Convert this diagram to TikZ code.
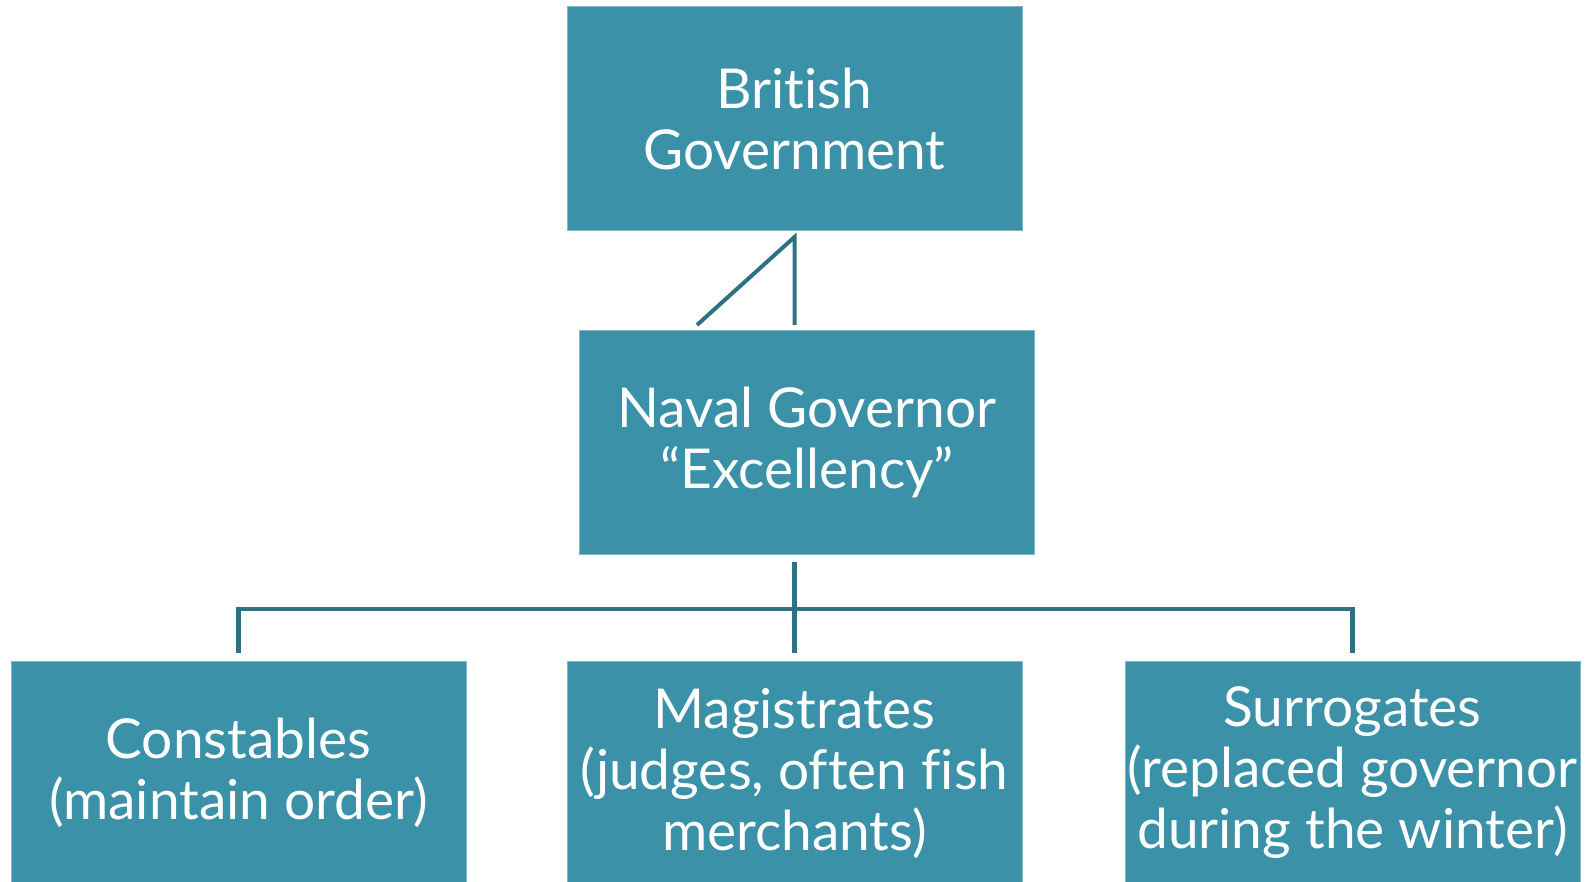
\documentclass[tikz,border=0pt]{standalone}
\usepackage{fontspec}
\setmainfont[Ligatures=NoCommon]{Lato}
\definecolor{boxfill}{HTML}{3A91A8}
\definecolor{boxedge}{HTML}{7FB8C8}
\definecolor{linecol}{HTML}{2D7183}
\begin{document}
\begin{tikzpicture}[x=1pt,y=-1pt,
  orgbox/.style={rectangle, fill=boxfill, draw=boxedge, line width=1pt,
    minimum width=455pt, minimum height=224pt, inner sep=0pt,
    text=white, align=center, font=\fontsize{55}{61}\selectfont},
  conn/.style={draw=linecol, line width=4.5pt}]
\useasboundingbox (0,0) rectangle (1595,882);
\clip (0,0) rectangle (1595,882);
\node[orgbox] (top) at (794.5,119) {British\\Government};
\node[orgbox] (mid) at (807,442.5) {Naval Governor\\“Excellency”};
\node[orgbox] (cl) at (238.5,773) {Constables\\(maintain order)};
\node[orgbox] (cm) at (794.5,773) {Magistrates\\(judges, often fish\\merchants)};
\node[orgbox] (cr) at (1352.5,773) {Surrogates\\(replaced governor\\during the winter)};
\coordinate (a) at (794.5,237);
\coordinate (b) at (794.5,325);
\coordinate (c) at (697,325);
\draw[conn, line width=4pt] (c) -- (a) -- (b);
\coordinate (d) at (794.5,562);
\coordinate (e) at (794.5,653);
\coordinate (bl) at (238.5,653);
\coordinate (br) at (1352.5,653);
\coordinate (jl) at (238.5,609);
\coordinate (jr) at (1352.5,609);
\draw[conn] (d) -- (e);
\draw[conn] (bl) -- (jl) -- (jr) -- (br);
\end{tikzpicture}
\end{document}
